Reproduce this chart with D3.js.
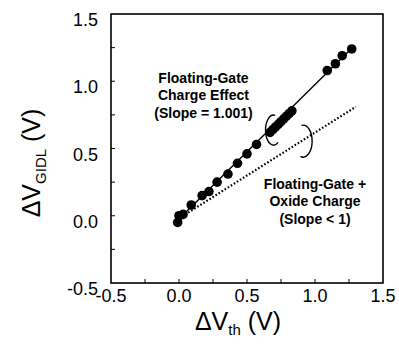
<!DOCTYPE html>
<html>
<head>
<meta charset="utf-8">
<script src="https://cdn.jsdelivr.net/npm/d3@7"></script>
<style>
  html, body { margin: 0; padding: 0; background: #fff; }
  svg { display: block; }
  text { font-family: "Liberation Sans", Arial, Helvetica, sans-serif; fill: #000; }
</style>
</head>
<body>
<svg id="chart" width="399" height="346"></svg>
<script>
// ---- data ----
const vth  = [-0.01, 0.00, 0.03, 0.09, 0.17, 0.22, 0.28, 0.36, 0.43, 0.50, 0.57, 0.67, 0.69, 0.71, 0.73, 0.75, 0.77, 0.79, 0.81, 0.83, 1.09, 1.15, 1.20, 1.27];
const gidl = [-0.05, 0.00, 0.01, 0.08, 0.15, 0.18, 0.25, 0.31, 0.39, 0.46, 0.53, 0.62, 0.64, 0.66, 0.68, 0.70, 0.72, 0.74, 0.76, 0.78, 1.08, 1.13, 1.19, 1.24];
const fitFG   = [[0.00, -0.025], [1.27, 1.246]];   // slope = 1.001
const fitOx   = [[0.00, -0.02], [1.30, 0.81]];     // slope < 1
const xTickLabels = [-0.5, 0.0, 0.5, 1.0, 1.5];
const yTickLabels = [-0.5, 0.0, 0.5, 1.0, 1.5];
const minorTicks  = [-0.25, 0.25, 0.75, 1.25];
const noteFG = ["Floating-Gate", "Charge Effect", "(Slope = 1.001)"];
const noteOx = ["Floating-Gate +", "Oxide Charge", "(Slope < 1)"];
const loopFG = [0.67, 0.65];
const loopOx = [0.93, 0.56];

// ---- layout ----
const L = 111, R = 383, T = 14, B = 283;
const x = d3.scaleLinear().domain([-0.5, 1.5]).range([L, R]);
const y = d3.scaleLinear().domain([-0.5, 1.5]).range([B, T]);
const svg = d3.select("#chart");

// frame
svg.append("rect").attr("x", L).attr("y", T).attr("width", R - L).attr("height", B - T)
  .attr("fill", "none").attr("stroke", "#000").attr("stroke-width", 1.6);

// inward ticks
const allTicks = xTickLabels.concat(minorTicks).filter(v => v > -0.5 && v < 1.5);
svg.append("g").selectAll("line").data(allTicks).join("line")
  .attr("x1", d => x(d)).attr("x2", d => x(d)).attr("y1", B).attr("y2", B - 4)
  .attr("stroke", "#000").attr("stroke-width", 1);
svg.append("g").selectAll("line").data(allTicks).join("line")
  .attr("y1", d => y(d)).attr("y2", d => y(d)).attr("x1", L).attr("x2", L + 4)
  .attr("stroke", "#000").attr("stroke-width", 1);

// tick labels
svg.append("g").selectAll("text").data(xTickLabels).join("text")
  .attr("x", d => x(d)).attr("y", B + 19).attr("text-anchor", "middle")
  .attr("font-size", 18).text(d => d.toFixed(1));
svg.append("g").selectAll("text").data(yTickLabels).join("text")
  .attr("x", 98).attr("y", d => y(d) + 12).attr("text-anchor", "end")
  .attr("font-size", 18).text(d => d.toFixed(1));

// axis titles
const xt = svg.append("text").attr("x", 238).attr("y", 330).attr("text-anchor", "middle").attr("font-size", 25);
xt.append("tspan").text("ΔV");
xt.append("tspan").attr("font-size", 15).attr("dy", 5).text("th");
xt.append("tspan").attr("dy", -5).text(" (V)");

const yt = svg.append("text").attr("transform", "translate(40,163) rotate(-90)")
  .attr("text-anchor", "middle").attr("font-size", 25);
yt.append("tspan").text("ΔV");
yt.append("tspan").attr("font-size", 15).attr("dy", 6).text("GIDL");
yt.append("tspan").attr("dy", -6).text(" (V)");

// fit lines
const line = d3.line().x(d => x(d[0])).y(d => y(d[1]));
svg.append("path").attr("d", line(fitOx)).attr("fill", "none").attr("stroke", "#000")
  .attr("stroke-width", 2.2).attr("stroke-dasharray", "1.6,2");
svg.append("path").attr("d", line(fitFG)).attr("fill", "none").attr("stroke", "#000")
  .attr("stroke-width", 1.4);

// points
svg.append("g").selectAll("circle").data(vth.map((v, i) => [v, gidl[i]])).join("circle")
  .attr("cx", d => x(d[0])).attr("cy", d => y(d[1])).attr("r", 4.8).attr("fill", "#000");

// annotation loops
function loop(anchor, sx, sy, ex, ey, rx, ry, sweep) {
  const cx = x(anchor[0]), cy = y(anchor[1]);
  return `M${cx + sx},${cy + sy} A${rx},${ry} 0 1 ${sweep} ${cx + ex},${cy + ey}`;
}
svg.append("path").attr("d", loop(loopFG, 5, -13, 8, 14, 8, 15, 0))
  .attr("fill", "none").attr("stroke", "#000").attr("stroke-width", 1.4);
svg.append("path").attr("d", loop(loopOx, -4, -15, -5, 16, 9, 16, 1))
  .attr("fill", "none").attr("stroke", "#000").attr("stroke-width", 1.4);

// notes
function note(lines, pos) {
  svg.append("g").selectAll("text").data(lines).join("text")
    .attr("x", x(pos[0])).attr("y", (d, i) => y(pos[1]) + i * 17.5)
    .attr("text-anchor", "middle").attr("font-size", 14).attr("font-weight", "bold")
    .text(d => d);
}
note(noteFG, [0.18, 0.99]);
note(noteOx, [1.00, 0.20]);
</script>
</body>
</html>
